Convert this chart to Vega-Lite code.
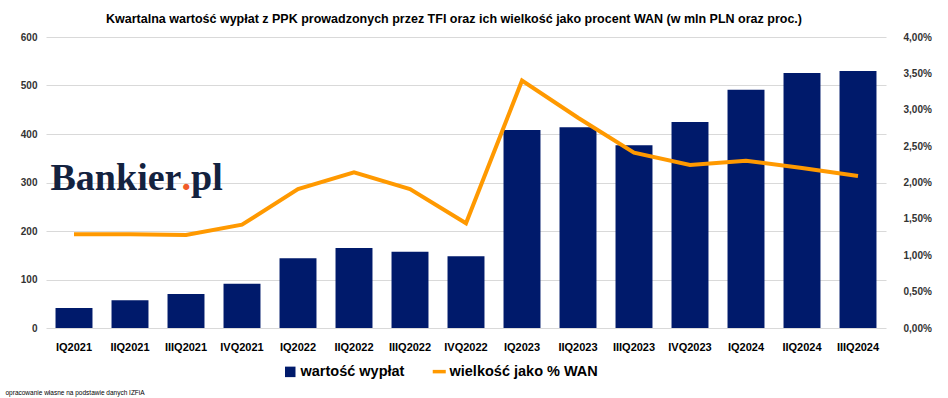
{
  "$schema": "https://vega.github.io/schema/vega-lite/v6.json",
  "width": 840,
  "height": 291,
  "autosize": {"type": "none"},
  "padding": {"left": 46, "top": 37, "right": 62, "bottom": 70},
  "background": "white",
  "config": {
    "view": {"stroke": null},
    "font": "Liberation Sans",
    "axis": {"labelFont": "Liberation Sans", "titleFont": "Liberation Sans"},
    "legend": {"labelFont": "Liberation Sans"}
  },
  "title": {
    "text": "Kwartalna wartość wypłat z PPK prowadzonych przez TFI oraz ich wielkość jako procent WAN (w mln PLN oraz proc.)",
    "font": "Liberation Sans",
    "fontSize": 12.5,
    "fontWeight": "bold",
    "color": "#000000",
    "offset": 7,
    "dx": -12
  },
  "data": {
    "values": [
      {"kw": "IQ2021", "wyplaty": 41, "wan": 1.29},
      {"kw": "IIQ2021", "wyplaty": 57, "wan": 1.29},
      {"kw": "IIIQ2021", "wyplaty": 70, "wan": 1.28},
      {"kw": "IVQ2021", "wyplaty": 91, "wan": 1.42},
      {"kw": "IQ2022", "wyplaty": 144, "wan": 1.91},
      {"kw": "IIQ2022", "wyplaty": 165, "wan": 2.14},
      {"kw": "IIIQ2022", "wyplaty": 157, "wan": 1.91},
      {"kw": "IVQ2022", "wyplaty": 148, "wan": 1.44},
      {"kw": "IQ2023", "wyplaty": 408, "wan": 3.40},
      {"kw": "IIQ2023", "wyplaty": 414, "wan": 2.89},
      {"kw": "IIIQ2023", "wyplaty": 377, "wan": 2.41},
      {"kw": "IVQ2023", "wyplaty": 425, "wan": 2.24},
      {"kw": "IQ2024", "wyplaty": 491, "wan": 2.30},
      {"kw": "IIQ2024", "wyplaty": 526, "wan": 2.20},
      {"kw": "IIIQ2024", "wyplaty": 530, "wan": 2.09}
    ]
  },
  "encoding": {
    "x": {
      "field": "kw",
      "type": "ordinal",
      "sort": null,
      "scale": {"paddingInner": 0.34, "paddingOuter": 0.17},
      "axis": {
        "labelAngle": 0,
        "labelFontSize": 11,
        "labelFontWeight": "bold",
        "labelColor": "#000000",
        "labelPadding": 13,
        "domain": false,
        "ticks": false,
        "title": "opracowanie własne na podstawie danych IZFiA",
        "titleFont": "Liberation Sans",
        "titleFontSize": 6.5,
        "titleFontWeight": "normal",
        "titleColor": "#000000",
        "titleAnchor": "start",
        "titleAlign": "left",
        "titleBaseline": "middle",
        "titleX": -41,
        "titleY": 64
      }
    }
  },
  "layer": [
    {
      "layer": [
        {
          "mark": {"type": "bar", "color": "#001A6B"},
          "encoding": {
            "y": {
              "field": "wyplaty",
              "type": "quantitative",
              "scale": {"domain": [0, 600]},
              "axis": {
                "orient": "left",
                "values": [0, 100, 200, 300, 400, 500, 600],
                "grid": true,
                "gridColor": "#d9d9d9",
                "domain": false,
                "ticks": false,
                "labelFontSize": 10,
                "labelFontWeight": "bold",
                "labelColor": "#333333",
                "labelPadding": 9,
                "title": null
              }
            },
            "color": {
              "datum": "wartość wypłat",
              "type": "nominal",
              "scale": {
                "domain": ["wartość wypłat", "wielkość jako % WAN"],
                "range": ["#001A6B", "#FF9900"]
              },
              "legend": {
                "title": null,
                "orient": "none",
                "legendX": 237,
                "legendY": 327,
                "direction": "horizontal",
                "labelFontSize": 14.5,
                "labelFontWeight": "bold",
                "labelColor": "#000000",
                "labelLimit": 400,
                "labelOffset": 3,
                "columnPadding": 20,
                "encode": {
                  "symbols": {
                    "update": {
                      "shape": {"signal": "datum.value === 'wartość wypłat' ? 'square' : 'stroke'"},
                      "size": {"signal": "datum.value === 'wartość wypłat' ? 110 : 170"},
                      "strokeWidth": {"signal": "datum.value === 'wartość wypłat' ? 0 : 3.5"},
                      "fill": {"scale": "color", "field": "value"},
                      "stroke": {"scale": "color", "field": "value"},
                      "opacity": {"value": 1}
                    }
                  }
                }
              }
            }
          }
        },
        {
          "data": {"values": [{"t": "Bankier"}]},
          "mark": {"type": "text", "font": "Liberation Serif", "fontSize": 38, "fontWeight": "bold", "color": "#13223F", "align": "left", "baseline": "alphabetic", "dx": -5, "dy": 7},
          "encoding": {
            "x": {"datum": "IQ2021", "bandPosition": 0},
            "y": {"datum": 300, "type": "quantitative"},
            "text": {"field": "t"}
          }
        },
        {
          "data": {"values": [{"t": "."}]},
          "mark": {"type": "text", "font": "Liberation Serif", "fontSize": 38, "fontWeight": "bold", "color": "#F05A28", "align": "left", "baseline": "alphabetic", "dx": 126, "dy": 7},
          "encoding": {
            "x": {"datum": "IQ2021", "bandPosition": 0},
            "y": {"datum": 300, "type": "quantitative"},
            "text": {"field": "t"}
          }
        },
        {
          "data": {"values": [{"t": "pl"}]},
          "mark": {"type": "text", "font": "Liberation Serif", "fontSize": 38, "fontWeight": "bold", "color": "#13223F", "align": "left", "baseline": "alphabetic", "dx": 135.5, "dy": 7},
          "encoding": {
            "x": {"datum": "IQ2021", "bandPosition": 0},
            "y": {"datum": 300, "type": "quantitative"},
            "text": {"field": "t"}
          }
        }
      ]
    },
    {
      "mark": {"type": "line", "strokeWidth": 4, "strokeJoin": "miter", "strokeCap": "butt"},
      "encoding": {
        "y": {
          "field": "wan",
          "type": "quantitative",
          "scale": {"domain": [0, 4]},
          "axis": {
            "orient": "right",
            "values": [0, 0.5, 1, 1.5, 2, 2.5, 3, 3.5, 4],
            "labelExpr": "replace(format(datum.value, '.2f'), '.', ',') + '%'",
            "grid": false,
            "domain": false,
            "ticks": false,
            "labelFontSize": 10,
            "labelFontWeight": "bold",
            "labelColor": "#333333",
            "labelPadding": 17,
            "title": null
          }
        },
        "color": {"datum": "wielkość jako % WAN", "type": "nominal"}
      }
    }
  ],
  "resolve": {"scale": {"y": "independent"}}
}
